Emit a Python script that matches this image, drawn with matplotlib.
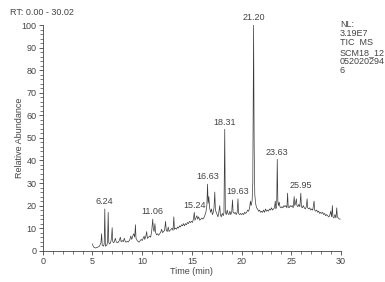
import matplotlib
matplotlib.use('Agg')
import matplotlib.pyplot as plt
from matplotlib.ticker import MultipleLocator

plt.rcParams['font.family'] = ['Liberation Sans', 'DejaVu Sans']

# chromatogram trace (time in min, relative abundance in %)
time_min = [
    5.00, 5.05, 5.15, 5.30, 5.50, 5.70, 5.85, 5.92, 5.98, 6.10, 6.18, 6.24, 6.30, 6.45, 6.52, 6.58,
    6.64, 6.75, 6.85, 6.92, 6.98, 7.04, 7.15, 7.30, 7.40, 7.55, 7.70, 7.80, 7.88, 8.00, 8.10, 8.20,
    8.30, 8.40, 8.50, 8.60, 8.75, 8.85, 8.95, 9.05, 9.15, 9.25, 9.32, 9.38, 9.50, 9.60, 9.70, 9.80,
    9.90, 10.00, 10.10, 10.20, 10.25, 10.35, 10.45, 10.52, 10.65, 10.75, 10.85, 10.95, 11.06, 11.12,
    11.20, 11.28, 11.35, 11.45, 11.55, 11.65, 11.75, 11.85, 11.95, 12.05, 12.15, 12.25, 12.35, 12.42,
    12.52, 12.62, 12.70, 12.80, 12.90, 13.00, 13.10, 13.18, 13.24, 13.35, 13.45, 13.55, 13.65, 13.75,
    13.85, 13.95, 14.05, 14.15, 14.25, 14.35, 14.45, 14.55, 14.65, 14.75, 14.85, 14.95, 15.05, 15.15,
    15.24, 15.30, 15.40, 15.50, 15.58, 15.68, 15.78, 15.90, 16.00, 16.10, 16.25, 16.40, 16.50, 16.57,
    16.63, 16.70, 16.78, 16.88, 16.98, 17.05, 17.15, 17.22, 17.30, 17.36, 17.45, 17.55, 17.62, 17.72,
    17.80, 17.86, 17.95, 18.05, 18.15, 18.22, 18.30, 18.36, 18.45, 18.55, 18.62, 18.72, 18.82, 18.90,
    19.00, 19.08, 19.14, 19.25, 19.35, 19.45, 19.55, 19.63, 19.69, 19.80, 19.90, 20.00, 20.10, 20.20,
    20.30, 20.40, 20.50, 20.60, 20.70, 20.80, 20.88, 20.95, 21.05, 21.12, 21.20, 21.26, 21.32, 21.40,
    21.50, 21.60, 21.70, 21.80, 21.90, 22.00, 22.10, 22.20, 22.30, 22.40, 22.50, 22.60, 22.70, 22.80,
    22.90, 23.00, 23.10, 23.20, 23.30, 23.38, 23.44, 23.52, 23.58, 23.64, 23.70, 23.78, 23.85, 23.95,
    24.05, 24.15, 24.25, 24.35, 24.45, 24.55, 24.62, 24.68, 24.78, 24.88, 24.98, 25.08, 25.18, 25.28,
    25.34, 25.42, 25.50, 25.56, 25.65, 25.75, 25.85, 25.95, 26.01, 26.10, 26.20, 26.30, 26.40, 26.50,
    26.58, 26.64, 26.75, 26.85, 26.95, 27.05, 27.15, 27.28, 27.34, 27.45, 27.55, 27.65, 27.75, 27.85,
    27.95, 28.05, 28.15, 28.25, 28.35, 28.45, 28.55, 28.65, 28.75, 28.85, 28.95, 29.05, 29.12, 29.18,
    29.28, 29.38, 29.48, 29.56, 29.62, 29.72, 29.82, 29.90,
]
abundance = [
    3.0, 2.2, 1.5, 1.2, 1.5, 2.0, 3.5, 7.5, 2.5, 2.0, 3.0, 18.5, 2.0, 2.5, 4.0, 17.0,
    3.5, 3.0, 4.0, 6.0, 10.2, 4.0, 3.5, 5.5, 3.8, 3.5, 4.5, 6.0, 4.0, 4.5, 4.0, 5.5,
    4.0, 3.8, 4.2, 3.9, 4.8, 6.5, 5.0, 6.5, 7.5, 6.0, 11.5, 5.5, 4.5, 4.0, 3.8, 4.5,
    5.0, 4.5, 5.5, 6.5, 5.0, 6.0, 8.5, 5.5, 6.0, 6.5, 6.0, 8.5, 14.0, 9.5,
    8.5, 12.0, 8.0, 7.0, 7.5, 6.8, 7.5, 8.0, 9.5, 8.0, 8.5, 9.0, 13.0, 9.0,
    8.5, 10.5, 8.5, 9.0, 9.5, 10.0, 9.0, 15.0, 9.5, 10.0, 9.5, 10.5, 10.0, 11.0,
    10.5, 11.5, 11.0, 12.0, 11.0, 12.0, 11.5, 12.5, 12.0, 13.0, 12.5, 13.0, 12.5, 14.0,
    17.0, 13.5, 14.5, 15.5, 14.0, 15.0, 13.5, 14.0, 14.5, 14.0, 15.0, 17.0, 20.0, 29.5,
    21.0, 24.0, 19.0, 17.0, 18.5, 16.0, 17.0, 19.0, 26.0, 18.0, 17.0, 16.0, 15.0, 17.5,
    20.0, 16.0, 15.0, 16.5, 15.5, 17.0, 53.8, 17.0, 16.0, 18.0, 16.5, 16.0, 17.5, 16.0,
    17.0, 22.5, 17.0, 16.5, 17.0, 16.0, 17.0, 23.0, 16.5, 16.0, 16.5, 16.0, 16.5, 16.0,
    17.0, 16.5, 17.0, 18.0, 17.5, 19.0, 22.0, 20.0, 22.0, 30.0, 100.0, 45.0, 25.0, 21.0,
    19.0, 18.5, 17.5, 18.0, 17.0, 17.5, 17.0, 18.0, 17.0, 18.5, 17.5, 18.0, 17.5, 18.5,
    18.0, 19.0, 18.0, 18.5, 19.0, 22.0, 18.5, 19.5, 40.5, 22.0, 20.0, 21.5, 19.5, 19.0,
    19.5, 19.0, 20.0, 19.5, 20.0, 19.0, 25.5, 19.5, 19.0, 20.0, 19.5, 20.0, 19.0, 24.0,
    20.0, 21.0, 23.0, 20.0, 19.5, 20.5, 19.5, 25.5, 19.5, 19.0, 20.0, 19.0, 18.5, 19.5,
    23.0, 19.0, 18.5, 19.0, 18.0, 18.5, 18.0, 22.0, 18.0, 17.5, 18.0, 17.0, 17.5, 16.5,
    17.0, 16.5, 17.0, 16.0, 16.5, 15.5, 16.0, 15.5, 15.0, 15.5, 17.5, 15.0, 20.0, 15.0,
    14.5, 16.0, 14.5, 19.0, 15.0, 14.5, 14.0, 14.0,
]

# labelled peaks
peak_labels = ['6.24', '11.06', '15.24', '16.63', '18.31', '19.63', '21.20', '23.63', '25.95']
peak_times = [6.24, 11.06, 15.24, 16.60, 18.30, 19.63, 21.20, 23.58, 25.95]
peak_heights = [18.5, 14.0, 17.0, 29.5, 53.8, 23.0, 100.0, 40.5, 25.5]

info_text = 'NL:\n3.19E7\nTIC  MS\nSCM18_12\n052020294\n6'
txt_color = '#444444'

fig = plt.figure(figsize=(3.85, 2.82), dpi=100)
ax = fig.add_axes([0.111, 0.111, 0.775, 0.8])

ax.plot(time_min, abundance, color='#3a3a3a', linewidth=0.5)

for lab, t, h in zip(peak_labels, peak_times, peak_heights):
    ax.text(t, h + 1.2, lab, ha='center', va='bottom', fontsize=6.5, color=txt_color)

ax.set_xlim(0, 30)
ax.set_ylim(0, 100)
ax.xaxis.set_major_locator(MultipleLocator(5))
ax.xaxis.set_minor_locator(MultipleLocator(1))
ax.yaxis.set_major_locator(MultipleLocator(10))
ax.yaxis.set_minor_locator(MultipleLocator(2))
ax.tick_params(which='major', length=3, width=0.6, labelsize=6.5, colors=txt_color, pad=1.5)
ax.tick_params(which='minor', length=2, width=0.5, colors=txt_color)
for side in ['top', 'right']:
    ax.spines[side].set_visible(False)
for side in ['left', 'bottom']:
    ax.spines[side].set_linewidth(0.6)
    ax.spines[side].set_color(txt_color)

ax.set_xlabel('Time (min)', fontsize=6.5, color=txt_color, labelpad=1)
ax.set_ylabel('Relative Abundance', fontsize=6.5, color=txt_color)
ax.yaxis.set_label_coords(-0.064, 0.5)

fig.text(0.026, 0.955, 'RT: 0.00 - 30.02', fontsize=6.5, color=txt_color, va='center')
fig.text(0.883, 0.93, info_text, fontsize=6.5, color=txt_color, va='top', linespacing=1.05)

fig.savefig('out.png', dpi=100)
